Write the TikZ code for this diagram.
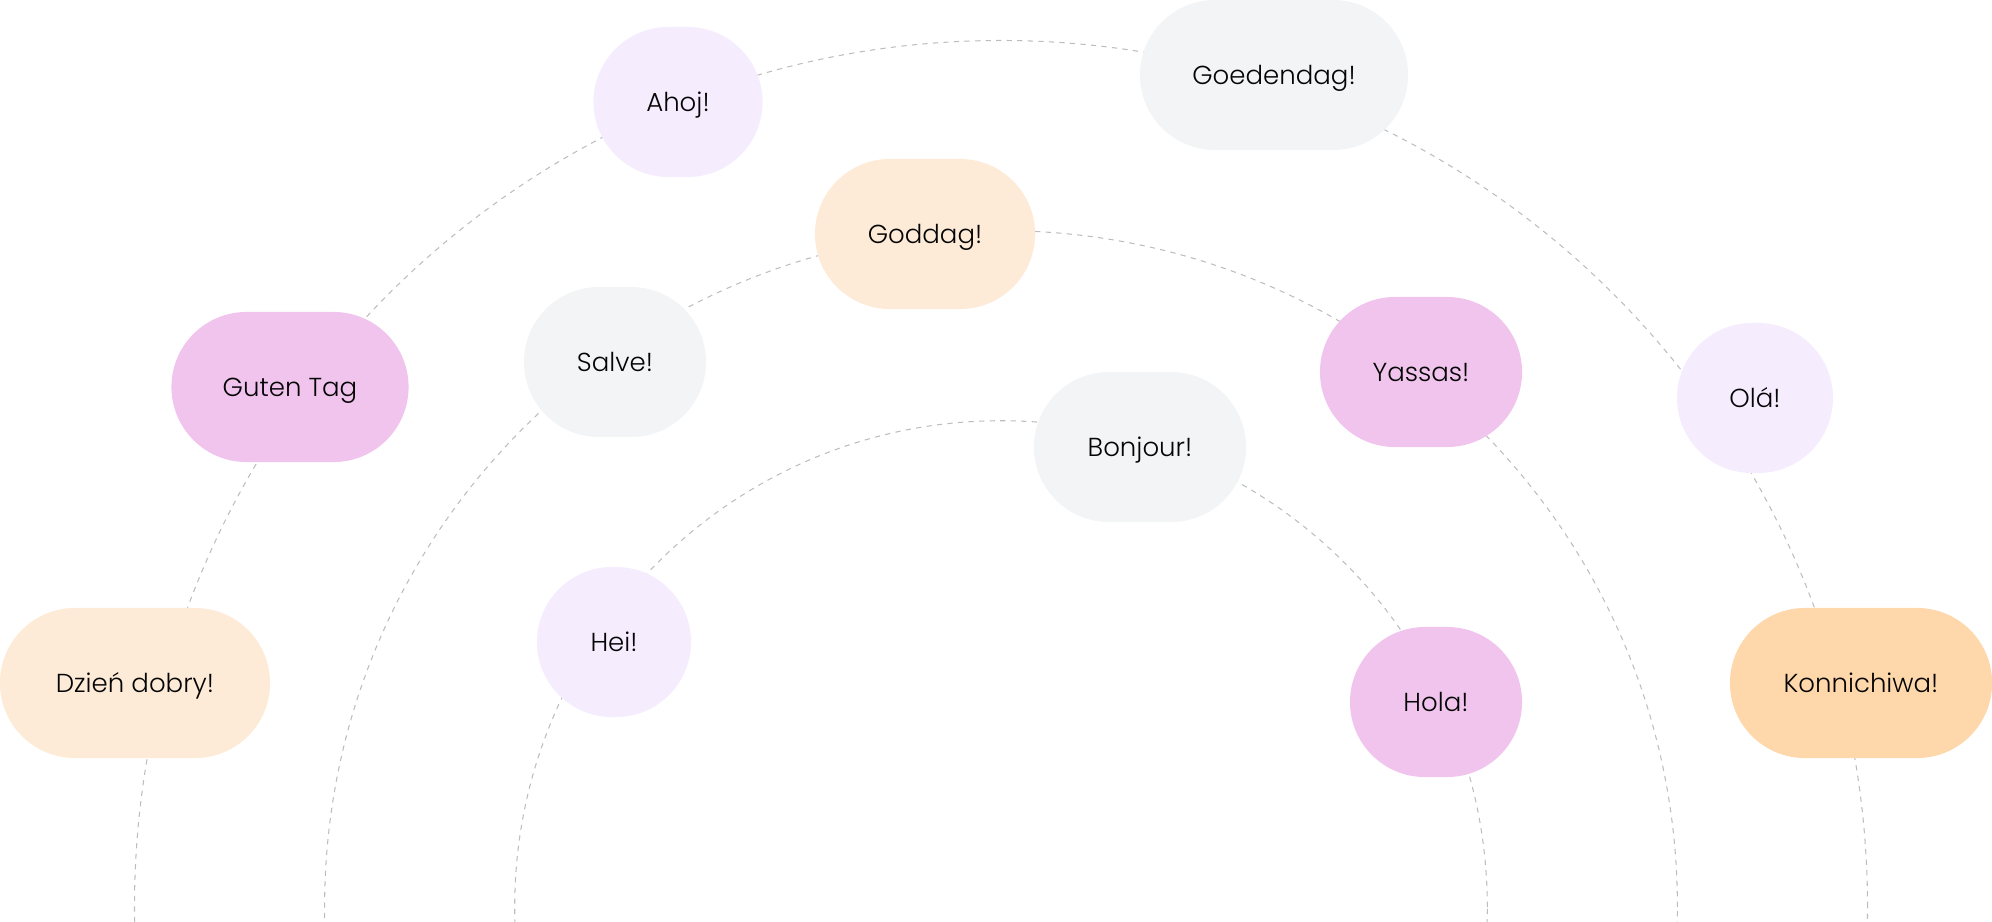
\documentclass[tikz,border=0pt]{standalone}
\usepackage{fontspec}
\setmainfont{Poppins Light}
\usetikzlibrary{shapes.misc}
\definecolor{lav}{HTML}{F5ECFD}
\definecolor{grey}{HTML}{F3F4F6}
\definecolor{peach}{HTML}{FDEBD7}
\definecolor{pink}{HTML}{F0C4EC}
\definecolor{orng}{HTML}{FED7AA}
\definecolor{arcc}{HTML}{BDBDBD}
\definecolor{txt}{HTML}{050505}
\tikzset{
  pill/.style={rounded rectangle, inner sep=0pt, minimum height=1.5cm, text=txt,
    text height=5.2pt, text depth=0pt,
    font=\fontsize{7.4pt}{9pt}\selectfont},
  orbit/.style={draw=arcc, line width=0.3pt, dash pattern=on 1.5pt off 1.5pt}
}
\begin{document}
\begin{tikzpicture}[x=0.01cm,y=-0.01cm]
\useasboundingbox (0,0) rectangle (1992,921);
\coordinate (c) at (1001,907);
\begin{scope}
\clip (0,0) rectangle (1992,921);
\draw[orbit] (c) circle[radius=8.66cm];
\draw[orbit] (c) circle[radius=6.76cm];
\draw[orbit] (c) circle[radius=4.86cm];
\end{scope}
\node[pill, fill=lav,   minimum width=1.69cm] (ahoj) at (678,102) {Ahoj!};
\node[pill, fill=grey,  minimum width=2.68cm] (goed) at (1274,75) {Goedendag!};
\node[pill, fill=peach, minimum width=2.20cm] (godd) at (925,234) {Goddag!};
\node[pill, fill=pink,  minimum width=2.37cm] (gute) at (290,387) {Guten Tag};
\node[pill, fill=grey,  minimum width=1.82cm] (salv) at (615,362) {Salve!};
\node[pill, fill=pink,  minimum width=2.02cm] (yass) at (1421,372) {Yassas!};
\node[pill, fill=lav,   minimum width=1.56cm] (ola)  at (1755,398) {Olá!};
\node[pill, fill=grey,  minimum width=2.12cm] (bonj) at (1140,447) {Bonjour!};
\node[pill, fill=lav,   minimum width=1.54cm] (hei)  at (614,642) {Hei!};
\node[pill, fill=pink,  minimum width=1.72cm] (hola) at (1436,702) {Hola!};
\node[pill, fill=peach, minimum width=2.70cm] (dzie) at (135,683) {Dzień dobry!};
\node[pill, fill=orng,  minimum width=2.62cm] (konn) at (1861,683) {Konnichiwa!};
\end{tikzpicture}
\end{document}
